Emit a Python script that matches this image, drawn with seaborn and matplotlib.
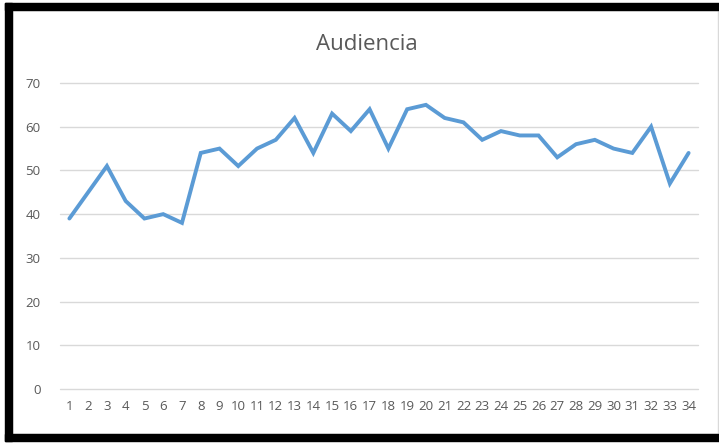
import matplotlib
matplotlib.use("Agg")
import matplotlib.pyplot as plt
from matplotlib.patches import Rectangle
import seaborn as sns

# -- data --------------------------------------------------------------------
days = list(range(1, 35))
audiencia = [39, 45, 51, 43, 39, 40, 38, 54, 55, 51, 55, 57, 62, 54, 63, 59, 64,
             55, 64, 65, 62, 61, 57, 59, 58, 58, 53, 56, 57, 55, 54, 60, 47, 54]
y_ticks = [0, 10, 20, 30, 40, 50, 60, 70]

W, H = 719, 443

sns.set_theme(style="white")
plt.rcParams["font.family"] = ["Open Sans", "DejaVu Sans"]

fig = plt.figure(figsize=(W / 100, H / 100), dpi=100)
ax = fig.add_axes([60 / W, 1 - 389 / H, (698 - 60) / W, (389 - 83) / H])

sns.lineplot(x=days, y=audiencia, ax=ax, color="#5B9BD5", linewidth=2.8,
             solid_joinstyle="miter")

ax.set_xlim(0.5, 34.5)
ax.set_ylim(0, 70)
ax.set_yticks(y_ticks)
ax.set_xticks(days)
ax.set_xticklabels([str(d) for d in days])
ax.tick_params(axis="both", length=0, labelsize=9.5, labelcolor="#595959")
ax.tick_params(axis="y", pad=14)
ax.tick_params(axis="x", pad=8)
ax.grid(axis="y", color="#D9D9D9", linewidth=1)
for gl in ax.get_ygridlines():
    gl.set_clip_on(False)
ax.set_axisbelow(True)
for s in ax.spines.values():
    s.set_visible(False)
ax.set_xlabel("")
ax.set_ylabel("")

fig.text(367 / W, 1 - 44 / H, "Audiencia", ha="center", va="center",
         fontsize=16, color="#595959")


# -- frame: black border on left/top/bottom, light grey chart-area line -------
def px_rect(x0, y0, x1, y1, **kw):
    return Rectangle((x0 / W, 1 - y1 / H), (x1 - x0) / W, (y1 - y0) / H,
                     transform=fig.transFigure, **kw)


fig.patches.append(px_rect(12, 10, 717.5, 434, fill=False,
                           edgecolor="#D9D9D9", linewidth=1))
fig.patches.append(px_rect(5, 3, 12, 441, color="black"))
fig.patches.append(px_rect(5, 3, 719, 9.5, color="black"))
fig.patches.append(px_rect(5, 434, 719, 441, color="black"))

fig.savefig("out.png", dpi=100)
